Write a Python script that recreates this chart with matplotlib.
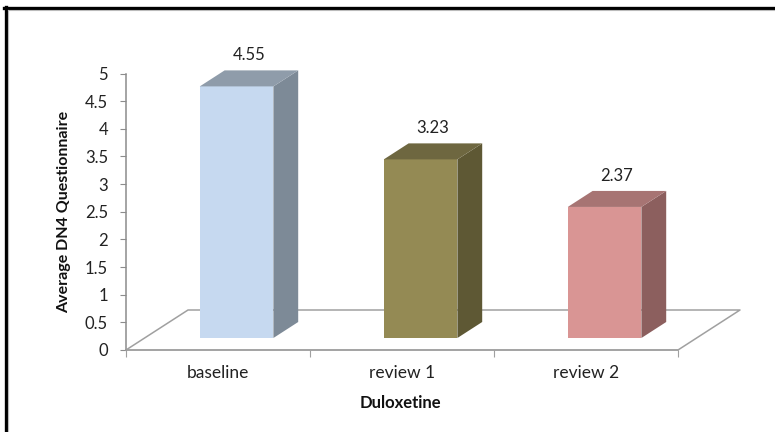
import matplotlib
matplotlib.use("Agg")
import matplotlib.pyplot as plt
from matplotlib.patches import Polygon
from matplotlib.lines import Line2D

plt.rcParams['font.family'] = ['Lato', 'DejaVu Sans']

# Data
categories = ["baseline", "review 1", "review 2"]
values = [4.55, 3.23, 2.37]
front_colors = ["#C6D9F0", "#948A54", "#D99594"]
side_colors = ["#7D8A97", "#5E5834", "#8C5F5E"]
top_colors = ["#8F9CAA", "#6E6740", "#A77473"]
yticks = [0, 0.5, 1, 1.5, 2, 2.5, 3, 3.5, 4, 4.5, 5]

W, H = 775, 432
fig = plt.figure(figsize=(W / 100, H / 100), dpi=100)
fig.patch.set_facecolor("white")

# plot area in pixels
x0_px, y0_px = 126, 350
cat_px = 184.0
unit_px = 55.3
n = len(categories)
xmax = 3.4
ax = fig.add_axes([x0_px / W, (H - y0_px) / H, xmax * cat_px / W, 5 * unit_px / H])
ax.set_xlim(0, xmax)
ax.set_ylim(0, 5)
ax.patch.set_alpha(0)

# oblique depth in data units
dx = 62 / cat_px
dy = 40 / unit_px
bw = 0.4           # bar width (category units)
d0, d1 = 0.3, 0.7  # bar position within floor depth

grey = "#A0A0A0"
# floor outline
floor = [(0, 0), (n, 0), (n + dx, dy), (dx, dy), (0, 0)]
ax.plot([p[0] for p in floor], [p[1] for p in floor], color=grey, lw=1.1,
        zorder=1, clip_on=False)

for i, (v, fc, sc, tc) in enumerate(zip(values, front_colors, side_colors, top_colors)):
    c = i + 0.5
    xl = c - bw / 2 + d0 * dx
    xr = c + bw / 2 + d0 * dx
    yb = d0 * dy
    yt = yb + v
    ddx = (d1 - d0) * dx
    ddy = (d1 - d0) * dy
    front = Polygon([(xl, yb), (xr, yb), (xr, yt), (xl, yt)], closed=True,
                    facecolor=fc, edgecolor="none", zorder=3, clip_on=False)
    side = Polygon([(xr, yb), (xr + ddx, yb + ddy), (xr + ddx, yt + ddy), (xr, yt)],
                   closed=True, facecolor=sc, edgecolor="none", zorder=3, clip_on=False)
    top = Polygon([(xl, yt), (xr, yt), (xr + ddx, yt + ddy), (xl + ddx, yt + ddy)],
                  closed=True, facecolor=tc, edgecolor="none", zorder=3, clip_on=False)
    for p in (front, side, top):
        ax.add_patch(p)
    ax.annotate(f"{v:.2f}", xy=(c + 0.5 * dx, yt + ddy), xytext=(0, 11),
                textcoords="offset points", ha="center", va="center",
                fontsize=12, color="#222222", zorder=5, annotation_clip=False)

# axes styling
for s in ("top", "right"):
    ax.spines[s].set_visible(False)
ax.spines["left"].set_bounds(0, 5)
ax.spines["bottom"].set_bounds(0, n)
ax.spines["left"].set_color("#8C8C8C")
ax.spines["bottom"].set_color(grey)
ax.spines["left"].set_linewidth(1.1)
ax.spines["bottom"].set_linewidth(1.1)

ax.set_yticks(yticks)
ax.set_yticklabels([f"{t:g}" for t in yticks], fontsize=12, color="#222222")
ax.tick_params(axis="y", length=4, color="#8C8C8C", pad=9)

ax.set_xticks(range(n + 1))
ax.set_xticklabels([""] * (n + 1))
ax.tick_params(axis="x", which="major", length=5, color=grey, direction="out")
ax.set_xticks([i + 0.5 for i in range(n)], minor=True)
ax.set_xticklabels(categories, minor=True, fontsize=12.5, color="#222222")
ax.tick_params(axis="x", which="minor", length=0, pad=11)

fig.text(400 / W, 1 - 403 / H, "Duloxetine", ha="center", va="center",
         fontsize=12, fontweight="bold", color="#111111")
fig.text(64 / W, 1 - 212 / H, "Average DN4 Questionnaire", ha="center", va="center",
         rotation=90, fontsize=11.5, fontweight="bold", color="#111111")

# frame lines along top and left edges
fig.add_artist(Line2D([4 / W, 1], [1 - 7.5 / H, 1 - 7.5 / H], color="black", lw=2.4,
                      transform=fig.transFigure))
fig.add_artist(Line2D([5.5 / W, 5.5 / W], [0, 1 - 6.5 / H], color="black", lw=2.4,
                      transform=fig.transFigure))
fig.add_artist(Line2D([8 / W, 1], [1 - 10 / H, 1 - 10 / H], color="#BBBBBB", lw=0.8,
                      transform=fig.transFigure))
fig.add_artist(Line2D([8 / W, 8 / W], [0, 1 - 10 / H], color="#BBBBBB", lw=0.8,
                      transform=fig.transFigure))

fig.savefig("out.png", dpi=100, facecolor="white")
